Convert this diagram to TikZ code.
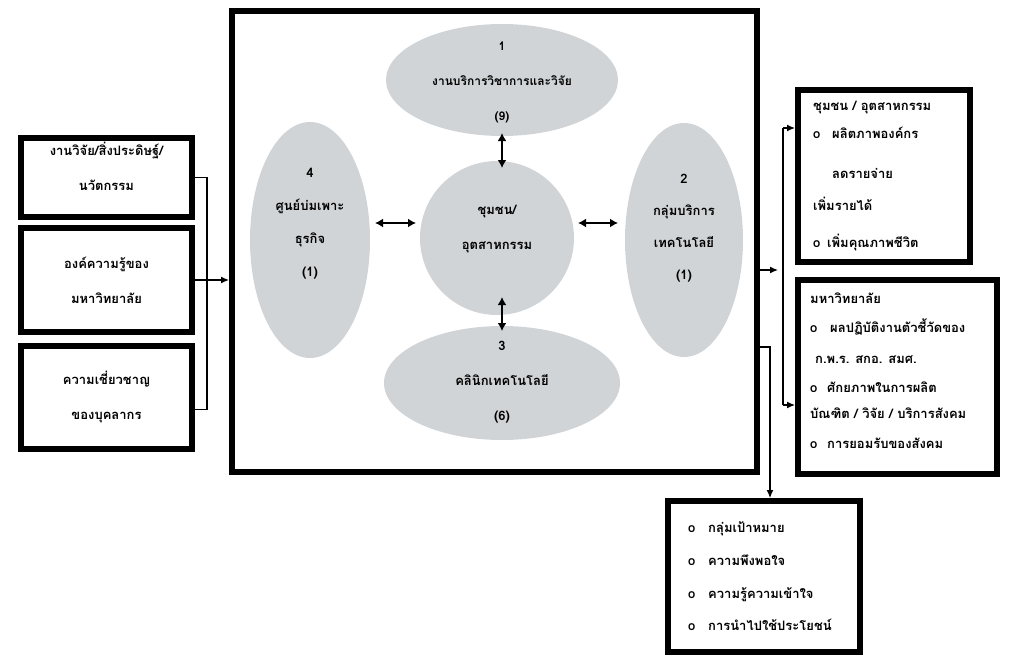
\documentclass[tikz,border=0pt]{standalone}
\usepackage{fontspec}
\usepackage{tikz}
\usetikzlibrary{arrows.meta}
\usetikzlibrary{positioning}
\usetikzlibrary{shapes.geometric}
\newfontfamily\thaifont[Script=Thai]{Loma}
\definecolor{egray}{rgb}{0.82, 0.83, 0.84}
\tikzset{box/.style = {draw, line width = 6, fill = white, inner sep = 0}}
\tikzset{oval/.style = {ellipse, fill = egray, inner sep = 0}}
\tikzset{txt/.style = {font = \thaifont\bfseries\fontsize{13}{35}\selectfont, align = center, inner sep = 0}}
\tikzset{item/.style = {font = \thaifont\bfseries\fontsize{13}{15}\selectfont, anchor = base west, inner sep = 0}}
\tikzset{conn/.style = {line width = 1.2, -{Latex[length = 8pt, width = 7pt]}}}
\tikzset{dbl/.style = {line width = 2.4, {Latex[length = 8pt, width = 9pt]}-{Latex[length = 8pt, width = 9pt]}}}

\begin{document}
\begin{tikzpicture}[x = 1pt, y = -1pt]
    \useasboundingbox (0, 0) rectangle (1013, 656);

    % inputs
    \node [box, minimum width = 171, minimum height = 79] (b1) at (106.5, 177.5) {};
    \node [box, txt, minimum width = 171, minimum height = 104] (b2) at (106.5, 280) {องค์ความรู้ของ\\มหาวิทยาลัย};
    \node [box, txt, minimum width = 171, minimum height = 103] (b3) at (106.5, 397.5) {ความเชี่ยวชาญ\\ของบุคลากร};
    \node [txt] (b1t) at (106.5, 166) {งานวิจัย/สิ่งประดิษฐ์/\\นวัตกรรม};

    % main frame
    \node [box, fill = none, minimum width = 525, minimum height = 461] (main) at (494.5, 241.5) {};

    \node [oval, minimum width = 232, minimum height = 112] (e1) at (502, 80) {};
    \node [oval, minimum width = 154, minimum height = 154] (cc) at (497, 238) {};
    \node [oval, minimum width = 120, minimum height = 236] (e4) at (310, 240) {};
    \node [oval, minimum width = 118, minimum height = 234] (e2) at (684, 240) {};
    \node [oval, minimum width = 236, minimum height = 114] (e3) at (502, 383) {};

    \node [txt, font = \thaifont\bfseries\fontsize{12}{35}\selectfont] (e1t) at (502, 82) {1\\งานบริการวิชาการและวิจัย\\(9)};
    \node [txt] (cct) at (497, 229) {ชุมชน/\\อุตสาหกรรม};
    \node [txt, font = \thaifont\bfseries\fontsize{13}{33}\selectfont] (e4t) at (310, 224) {4\\ศูนย์บ่มเพาะ\\ธุรกิจ\\(1)};
    \node [txt, font = \thaifont\bfseries\fontsize{13}{32}\selectfont] (e2t) at (684, 228) {2\\กลุ่มบริการ\\เทคโนโลยี\\(1)};
    \node [txt] (e3t) at (502, 382) {3\\คลินิกเทคโนโลยี\\(6)};

    \coordinate (h1) at (375, 223);
    \coordinate (h2) at (416, 223);
    \coordinate (h3) at (578, 223);
    \coordinate (h4) at (618, 223);
    \coordinate (v1) at (502, 133);
    \coordinate (v2) at (502, 168);
    \coordinate (v3) at (502, 297);
    \coordinate (v4) at (502, 331);
    \draw [dbl] (h1) -- (h2);
    \draw [dbl] (h3) -- (h4);
    \draw [dbl] (v1) -- (v2);
    \draw [dbl] (v3) -- (v4);

    % outputs
    \node [box, minimum width = 172, minimum height = 172] (r1) at (884, 176) {};
    \node [box, minimum width = 199, minimum height = 194] (r2) at (897.5, 377) {};
    \node [box, minimum width = 192, minimum height = 151] (bb) at (764, 576.5) {};

    \node [item] (r1a) at (813, 110) {ชุมชน / อุตสาหกรรม};
    \node [item] (r1b) at (813, 138) {o};
    \node [item] (r1c) at (832, 138) {ผลิตภาพองค์กร};
    \node [item] (r1d) at (832, 178) {ลดรายจ่าย};
    \node [item] (r1e) at (813, 210) {เพิ่มรายได้};
    \node [item] (r1f) at (813, 247) {o};
    \node [item] (r1g) at (827, 247) {เพิ่มคุณภาพชีวิต};

    \node [item] (r2a) at (810, 303) {มหาวิทยาลัย};
    \node [item] (r2b) at (810, 332) {o};
    \node [item] (r2c) at (830, 332) {ผลปฏิบัติงานตัวชี้วัดของ};
    \node [item] (r2d) at (815, 363) {ก.พ.ร. สกอ. สมศ.};
    \node [item] (r2e) at (810, 392) {o};
    \node [item] (r2f) at (827, 392) {ศักยภาพในการผลิต};
    \node [item] (r2g) at (810, 418) {บัณฑิต / วิจัย / บริการสังคม};
    \node [item] (r2h) at (810, 448) {o};
    \node [item] (r2i) at (827, 448) {การยอมรับของสังคม};

    \node [item] (bba) at (688, 532) {o};
    \node [item] (bbb) at (708, 532) {กลุ่มเป้าหมาย};
    \node [item] (bbc) at (688, 565) {o};
    \node [item] (bbd) at (708, 565) {ความพึงพอใจ};
    \node [item] (bbe) at (688, 598) {o};
    \node [item] (bbf) at (708, 598) {ความรู้ความเข้าใจ};
    \node [item] (bbg) at (688, 630) {o};
    \node [item] (bbh) at (708, 630) {การนำไปใช้ประโยชน์};

    % connectors
    \draw [line width = 1.2] (b1.east) -- ++(12, 0) |- ([yshift = -12pt] b3.east);
    \draw [conn] (b2.east) -- (b2.east -| main.west);

    \coordinate (o1) at (783, 270);
    \coordinate (o2) at (783, 128);
    \coordinate (o3) at (783, 405);
    \coordinate (o4) at (770, 347);
    \draw [conn, shorten >= 5pt] (o1 -| main.east) -- (o1);
    \draw [line width = 1.2] (o2) -- (o3);
    \draw [conn] (o2) -- (o2 -| r1.west);
    \draw [conn] (o3) -- (o3 -| r2.west);
    \draw [conn] (o4 -| main.east) -- (o4) -- (o4 |- bb.north);
\end{tikzpicture}
\end{document}
